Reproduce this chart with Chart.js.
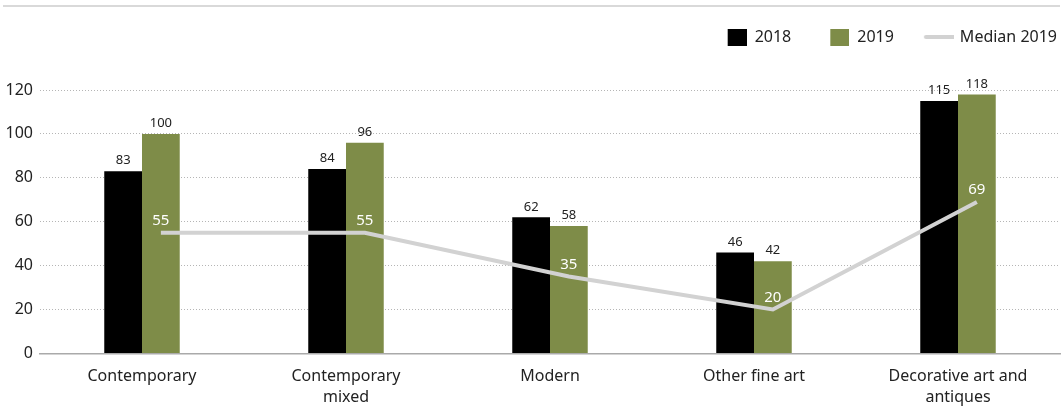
<!DOCTYPE html>
<html>
<head>
<meta charset="utf-8">
<script src="https://cdn.jsdelivr.net/npm/chart.js@4/dist/chart.umd.min.js"></script>
<style>
  html, body { margin: 0; padding: 0; background: #fff; }
  #wrap { position: relative; width: 1064px; height: 420px; }
  #topline { position: absolute; left: 3px; top: 5px; width: 1057px; height: 2px; background: #d9d9d9; }
  canvas { position: absolute; left: 0; top: 0; }
</style>
</head>
<body>
<div id="wrap">
  <div id="topline"></div>
  <canvas id="c" width="1064" height="420"></canvas>
</div>
<script>
const categories = [
  "Contemporary",
  ["Contemporary", "mixed"],
  "Modern",
  "Other fine art",
  ["Decorative art and", "antiques"]
];
const values2018 = [83, 84, 62, 46, 115];
const values2019 = [100, 96, 58, 42, 118];
const median2019 = [55, 55, 35, 20, 69];
const yTicks = [0, 20, 40, 60, 80, 100, 120];

const FONT = "'Noto Sans', 'Open Sans', sans-serif";
const GREEN = '#7e8c48';
const LINEGRAY = '#d2d2d2';
const LEGEND_PAD = 30;

function squareIcon(color) {
  const c = document.createElement('canvas');
  c.width = 28; c.height = 17;
  const x = c.getContext('2d');
  x.fillStyle = color;
  x.fillRect(9, 0, 19, 17);
  return c;
}
function lineIcon(color) {
  const c = document.createElement('canvas');
  c.width = 32; c.height = 6;
  const x = c.getContext('2d');
  x.strokeStyle = color;
  x.lineWidth = 4;
  x.lineCap = 'round';
  x.beginPath(); x.moveTo(4, 3); x.lineTo(32, 3); x.stroke();
  return c;
}

const labelPlugin = {
  id: 'labelsAndShift',
  afterLayout(chart) {
    const lg = chart.legend;
    if (!lg) return;
    const h = lg.bottom - lg.top;
    const dx = 1087 - lg.right;
    lg.left += dx; lg.right += dx;
    lg.top = 29 - LEGEND_PAD; lg.bottom = lg.top + h;
  },
  beforeDatasetDraw(chart, args) {
    if (chart.data.datasets[args.index].type === 'line') {
      const bw = chart.getDatasetMeta(1).data[0].width;
      chart.ctx.save();
      chart.ctx.translate(bw / 2, 0);
    }
  },
  afterDatasetDraw(chart, args) {
    if (chart.data.datasets[args.index].type === 'line') {
      chart.ctx.restore();
    }
  },
  afterDatasetsDraw(chart) {
    const ctx = chart.ctx;
    ctx.save();
    ctx.textAlign = 'center';
    [0, 1].forEach(i => {
      const meta = chart.getDatasetMeta(i);
      const ds = chart.data.datasets[i];
      ctx.font = "13px " + FONT;
      ctx.fillStyle = '#222';
      ctx.textBaseline = 'bottom';
      meta.data.forEach((el, j) => {
        ctx.fillText(String(ds.data[j]), el.x, el.y - 4);
      });
    });
    const bw = chart.getDatasetMeta(1).data[0].width;
    const lm = chart.getDatasetMeta(2);
    const lds = chart.data.datasets[2];
    ctx.font = "15px " + FONT;
    ctx.fillStyle = '#ffffff';
    ctx.textBaseline = 'middle';
    lm.data.forEach((el, j) => {
      ctx.fillText(String(lds.data[j]), el.x + bw / 2, el.y - 12);
    });
    ctx.restore();
  }
};

new Chart(document.getElementById('c'), {
  data: {
    labels: categories,
    datasets: [
      { type: 'bar', label: '2018', data: values2018, backgroundColor: '#000000', order: 1,
        pointStyle: squareIcon('#000000') },
      { type: 'bar', label: '2019', data: values2019, backgroundColor: GREEN, order: 1,
        pointStyle: squareIcon(GREEN) },
      { type: 'line', label: 'Median 2019', data: median2019, borderColor: LINEGRAY, borderWidth: 4,
        pointRadius: 0, tension: 0, fill: false, order: 0, pointStyle: lineIcon(LINEGRAY) }
    ]
  },
  options: {
    responsive: false,
    animation: false,
    layout: { padding: { left: 0, right: 4, top: 34, bottom: 7 } },
    datasets: { bar: { categoryPercentage: 0.37, barPercentage: 1.0 } },
    plugins: {
      legend: {
        position: 'top',
        align: 'end',
        labels: {
          usePointStyle: true,
          pointStyleWidth: 28,
          boxHeight: 17,
          padding: LEGEND_PAD,
          color: '#222',
          font: { family: FONT, size: 16 },
          sort: (a, b) => a.datasetIndex - b.datasetIndex
        }
      },
      tooltip: { enabled: false }
    },
    scales: {
      x: {
        grid: { display: false },
        border: { display: true, color: '#aaaaaa', width: 1.5 },
        ticks: { color: '#222', font: { family: FONT, size: 16, lineHeight: 1.3 }, padding: 5, maxRotation: 0 }
      },
      y: {
        min: 0, max: 120,
        afterBuildTicks(axis) { axis.ticks = yTicks.map(v => ({ value: v })); },
        afterFit(axis) { axis.width = 40; },
        grid: { color: ctx => ctx.tick && ctx.tick.value === 0 ? 'rgba(0,0,0,0)' : '#b5b5b5', drawTicks: false, lineWidth: 1 },
        border: { display: false, dash: [1, 2] },
        ticks: { color: '#222', font: { family: FONT, size: 16 }, padding: 7 }
      }
    }
  },
  plugins: [labelPlugin]
});
</script>
</body>
</html>
